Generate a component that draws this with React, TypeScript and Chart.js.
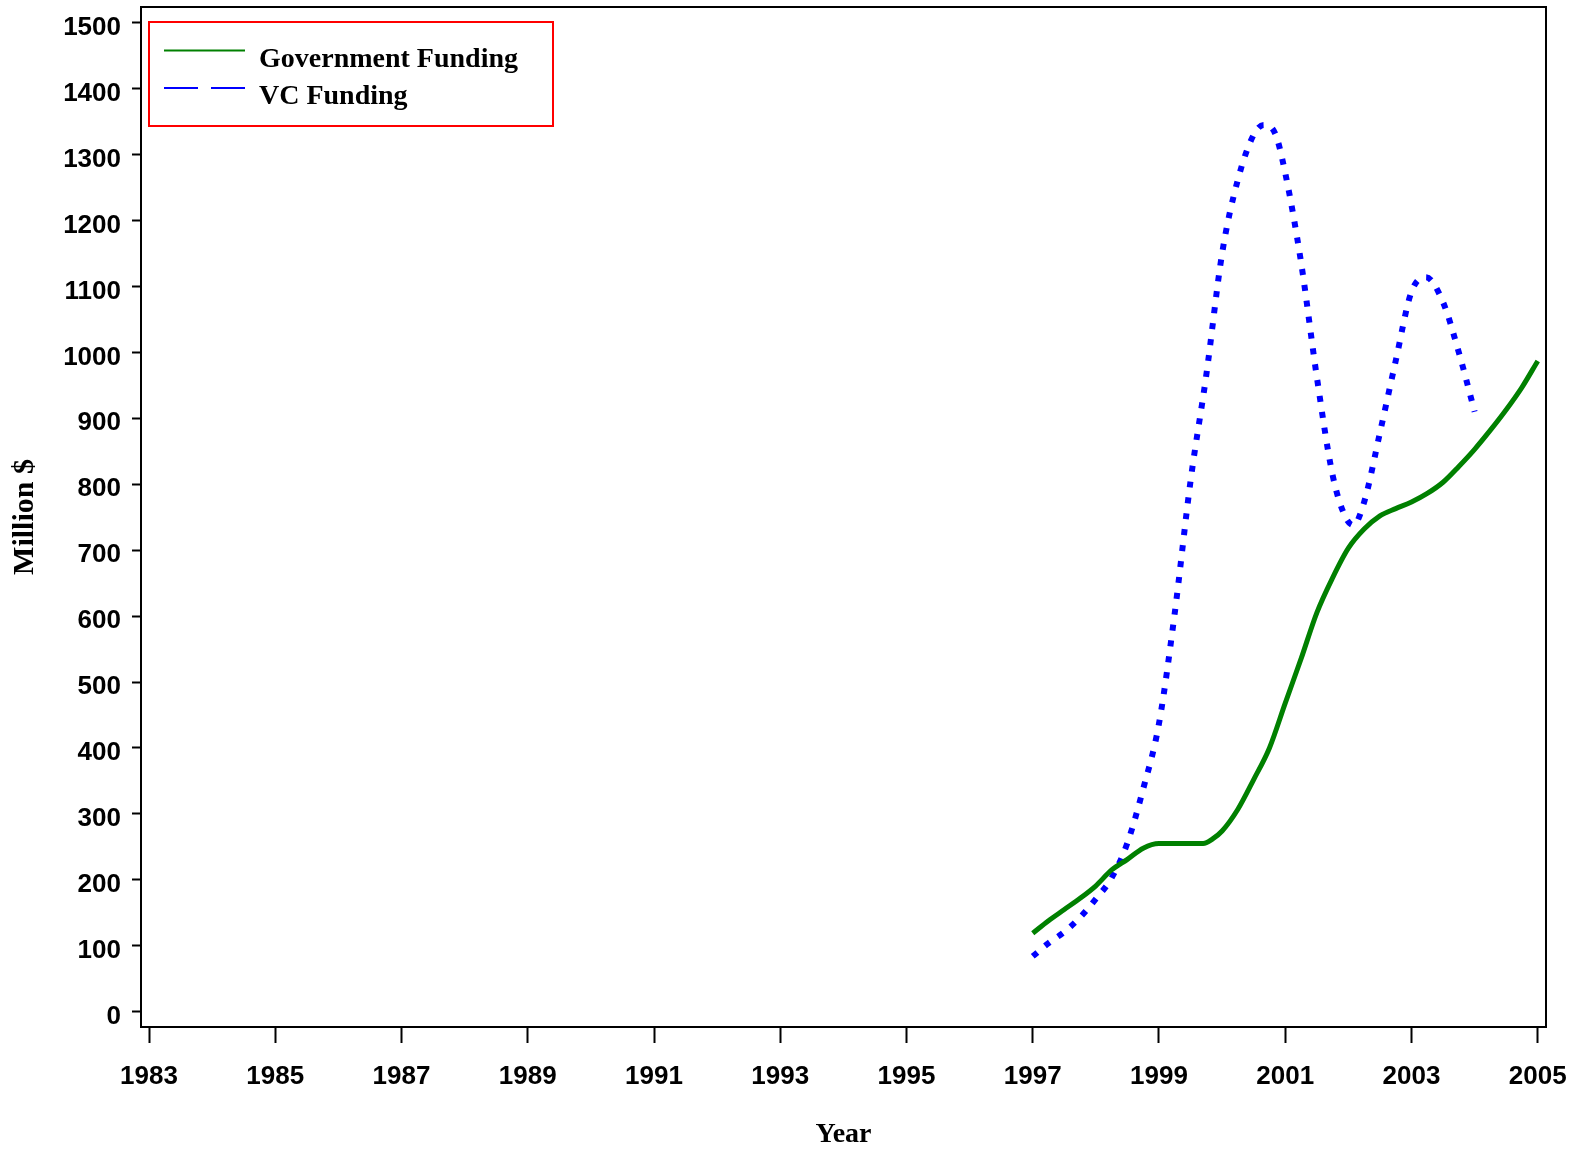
import React, { useEffect, useRef } from 'react';
import { Chart, registerables } from 'chart.js';

Chart.register(...registerables);

const xTickYears = [1983, 1985, 1987, 1989, 1991, 1993, 1995, 1997, 1999, 2001, 2003, 2005];
const yTickValues = [0, 100, 200, 300, 400, 500, 600, 700, 800, 900, 1000, 1100, 1200, 1300, 1400, 1500];

const govYears = [1997, 1997.25, 1997.5, 1997.75, 1998, 1998.25, 1998.5, 1998.75, 1999, 1999.25, 1999.5, 1999.7, 1999.85, 2000, 2000.25, 2000.5, 2000.75, 2001, 2001.25, 2001.5, 2001.75, 2002, 2002.25, 2002.5, 2002.75, 2003, 2003.25, 2003.5, 2003.75, 2004, 2004.25, 2004.5, 2004.75, 2005];
const govValues = [119, 138, 155, 172, 191, 215, 231, 248, 255, 255, 255, 255, 262, 274, 307, 352, 400, 468, 535, 605, 658, 703, 732, 752, 763, 773, 786, 803, 827, 853, 882, 913, 947, 987];

const vcYears = [1997, 1997.25, 1997.5, 1997.75, 1998, 1998.25, 1998.5, 1998.75, 1999, 1999.25, 1999.5, 1999.75, 2000, 2000.25, 2000.5, 2000.66, 2000.84, 2001, 2001.25, 2001.5, 2001.75, 2001.95, 2002.08, 2002.25, 2002.5, 2002.75, 2003, 2003.23, 2003.5, 2003.75, 2004];
const vcValues = [84, 104, 121, 143, 171, 203, 256, 338, 437, 605, 805, 966, 1150, 1262, 1330, 1345, 1332, 1272, 1137, 963, 814, 751, 738, 773, 878, 987, 1092, 1114, 1076, 1000, 910];

const seriesLabels = ['Government Funding', 'VC Funding'];
const seriesColors = ['#008000', '#0000FF'];
const xTitle = 'Year';
const yTitle = 'Million $';

const serif = "'Liberation Serif', 'Times New Roman', serif";
const tickFont = { family: "'Liberation Sans', Arial, sans-serif", size: 26, weight: 'bold' as const };
const legendFont = { family: serif, size: 28, weight: 'bold' as const };
const xTitleFont = { family: serif, size: 28, weight: 'bold' as const, lineHeight: 1 };
const yTitleFont = { family: serif, size: 30, weight: 'bold' as const, lineHeight: 1.2 };

const zeroPadding = (s: any) => {
  s.paddingTop = 0;
  s.paddingBottom = 0;
  s.paddingLeft = 0;
  s.paddingRight = 0;
};

export default function App() {
  const ref = useRef<HTMLCanvasElement | null>(null);

  useEffect(() => {
    if (!ref.current) return;

    const framePlugin = {
      id: 'frameLines',
      afterDraw(chart: any) {
        const { ctx, chartArea } = chart;
        ctx.save();
        ctx.strokeStyle = '#000';
        ctx.lineWidth = 2;
        ctx.beginPath();
        ctx.moveTo(chartArea.left, chartArea.top);
        ctx.lineTo(chartArea.right, chartArea.top);
        ctx.lineTo(chartArea.right, chartArea.bottom);
        ctx.stroke();
        ctx.restore();
      },
    };

    const legendPlugin = {
      id: 'boxedLegend',
      afterDraw(chart: any) {
        const { ctx, chartArea } = chart;
        const bx = chartArea.left + 8;
        const by = chartArea.top + 15;
        ctx.save();
        ctx.strokeStyle = '#FF0000';
        ctx.lineWidth = 2;
        ctx.strokeRect(bx, by, 404, 104);
        const rows = [
          { y: by + 28.5, dash: [] as number[] },
          { y: by + 66, dash: [34, 13] },
        ];
        chart.data.datasets.forEach((ds: any, i: number) => {
          const r = rows[i];
          ctx.setLineDash(r.dash);
          ctx.strokeStyle = ds.borderColor;
          ctx.lineWidth = 2;
          ctx.beginPath();
          ctx.moveTo(bx + 15, r.y);
          ctx.lineTo(bx + 96, r.y);
          ctx.stroke();
          ctx.setLineDash([]);
          ctx.fillStyle = '#000';
          ctx.font = `bold ${legendFont.size}px ${legendFont.family}`;
          ctx.textBaseline = 'alphabetic';
          ctx.textAlign = 'left';
          ctx.fillText(ds.label, bx + 110, r.y + 16);
        });
        ctx.restore();
      },
    };

    const chart = new Chart(ref.current, {
      type: 'line',
      data: {
        datasets: [
          {
            label: seriesLabels[0],
            data: govYears.map((x, i) => ({ x, y: govValues[i] })),
            borderColor: seriesColors[0],
            backgroundColor: seriesColors[0],
            borderWidth: 5,
            pointRadius: 0,
            fill: false,
            cubicInterpolationMode: 'monotone',
          },
          {
            label: seriesLabels[1],
            data: vcYears.map((x, i) => ({ x, y: vcValues[i] })),
            borderColor: seriesColors[1],
            backgroundColor: seriesColors[1],
            borderWidth: 6,
            borderDash: [6, 10],
            borderCapStyle: 'butt',
            pointRadius: 0,
            fill: false,
            cubicInterpolationMode: 'monotone',
          },
        ],
      },
      options: {
        responsive: false,
        animation: false,
        devicePixelRatio: 1,
        layout: { padding: { left: 0, top: 7, right: 31, bottom: 0 } },
        plugins: {
          legend: { display: false },
          tooltip: { enabled: false },
        },
        scales: {
          x: {
            type: 'linear',
            min: 1982.873,
            max: 2005.131,
            afterBuildTicks: (s: any) => {
              s.ticks = xTickYears.map((v) => ({ value: v }));
            },
            afterFit: (s: any) => {
              s.height = 122;
              zeroPadding(s);
            },
            ticks: {
              font: tickFont,
              color: '#000',
              padding: 18,
              maxRotation: 0,
              autoSkip: false,
              callback: (v: any) => String(v),
            },
            grid: {
              display: true,
              drawOnChartArea: false,
              drawTicks: true,
              tickLength: 16,
              tickWidth: 2,
              tickColor: '#000',
            },
            border: { display: true, color: '#000', width: 2 },
            title: {
              display: true,
              text: xTitle,
              font: xTitleFont,
              color: '#000',
              padding: { top: 0, bottom: 0 },
            },
          },
          y: {
            type: 'linear',
            min: -23.2,
            max: 1523.8,
            afterBuildTicks: (s: any) => {
              s.ticks = yTickValues.map((v) => ({ value: v }));
            },
            afterFit: (s: any) => {
              s.width = 141;
              zeroPadding(s);
            },
            ticks: {
              font: tickFont,
              color: '#000',
              padding: 11,
              labelOffset: 5,
              autoSkip: false,
              callback: (v: any) => String(v),
            },
            grid: {
              display: true,
              drawOnChartArea: false,
              drawTicks: true,
              tickLength: 9,
              tickWidth: 2,
              tickColor: '#000',
            },
            border: { display: true, color: '#000', width: 2 },
            title: {
              display: true,
              text: yTitle,
              font: yTitleFont,
              color: '#000',
              padding: { top: 7, bottom: 0 },
            },
          },
        },
      },
      plugins: [framePlugin, legendPlugin],
    } as any);

    return () => chart.destroy();
  }, []);

  return (
    <div style={{ position: 'fixed', left: 0, top: 0, width: 1577, height: 1149, background: '#fff' }}>
      <canvas ref={ref} width={1577} height={1149} style={{ display: 'block' }} />
    </div>
  );
}
